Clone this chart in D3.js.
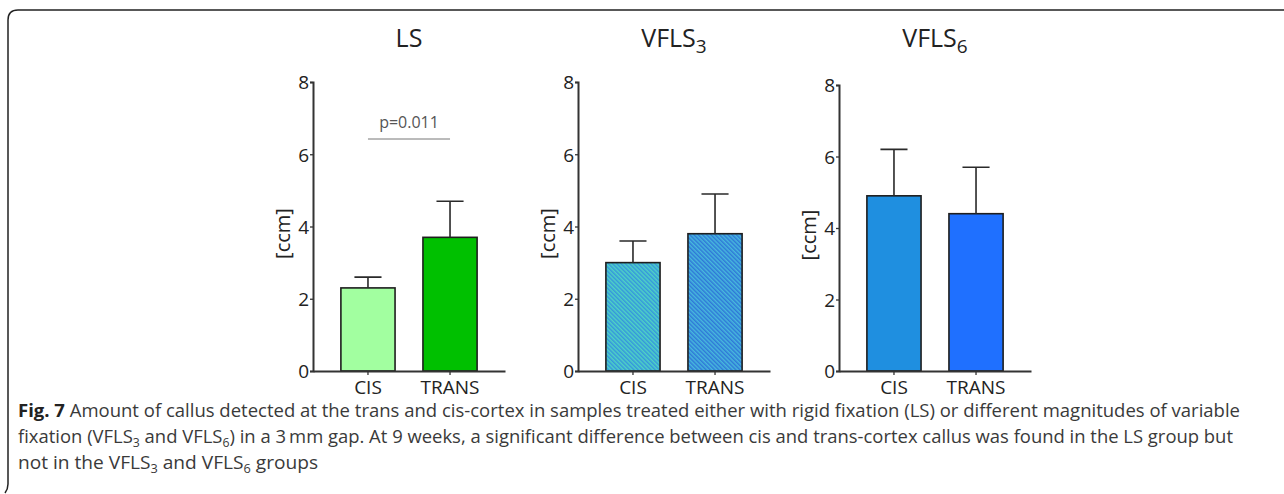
<!DOCTYPE html>
<html>
<head>
<meta charset="utf-8">
<script src="https://cdn.jsdelivr.net/npm/d3@7"></script>
<style>
  body { margin: 0; background: #fff; }
  svg { display: block; font-family: "Open Sans", "DejaVu Sans", sans-serif; }
</style>
</head>
<body>
<div class="container"></div>
<script>
var width = 1284;
var height = 494;

// data
var groups = ["LS", "VFLS", "VFLS"];
var groupSubs = ["", "3", "6"];
var categories = ["CIS", "TRANS"];
var lsMeans = [2.3, 3.7];
var lsSD = [0.3, 1.0];
var vfls3Means = [3.0, 3.8];
var vfls3SD = [0.6, 1.1];
var vfls6Means = [4.9, 4.4];
var vfls6SD = [1.3, 1.3];
var yTicks = [0, 2, 4, 6, 8];
var yLabel = "[ccm]";
var pLabel = "p=0.011";

// layout
var panelLeft = [313, 578, 839];
var panelTop = [82, 82, 85];
var panelBottom = 371;
var panelWidth = 192;
var fills = [["#a2ffa0", "#00c000"], ["url(#hatchCis)", "url(#hatchTrans)"], ["#1f8fe0", "#1f70ff"]];
var means = [lsMeans, vfls3Means, vfls6Means];
var sds = [lsSD, vfls3SD, vfls6SD];

var svg = d3.select(".container")
  .append("svg")
  .attr("width", width)
  .attr("height", height);

//-----------------------------------------
// hatch patterns for VFLS3
var defs = svg.append("defs");
function hatch(id, bg, fg) {
  var p = defs.append("pattern")
    .attr("id", id)
    .attr("patternUnits", "userSpaceOnUse")
    .attr("width", 3).attr("height", 3)
    .attr("patternTransform", "rotate(-45)");
  p.append("rect").attr("width", 3).attr("height", 3).attr("fill", bg);
  p.append("rect").attr("width", 1.5).attr("height", 3).attr("fill", fg);
}
hatch("hatchCis", "#4fd3c4", "#3596dd");
hatch("hatchTrans", "#47b9dc", "#2f78d8");

//-----------------------------------------
// frame
svg.append("path")
  .attr("d", "M5,493 Q8,489 8,484 L8,20 Q8,10 18,10 L1284,10")
  .attr("fill", "none")
  .attr("stroke", "#222")
  .attr("stroke-width", 1.5);

//-----------------------------------------
// panels
groups.forEach(function(name, gi) {
  var x0 = panelLeft[gi];
  var g = svg.append("g");

  var xScale = d3.scaleBand()
    .domain(categories)
    .range([x0, x0 + panelWidth])
    .padding(0.34);
  var yScale = d3.scaleLinear()
    .domain([0, 8])
    .range([panelBottom, panelTop[gi]]);

  var rows = categories.map(function(c, i) {
    return {cat: c, mean: means[gi][i], sd: sds[gi][i], fill: fills[gi][i]};
  });

  // bars
  g.selectAll(".bar")
    .data(rows)
    .enter()
    .append("rect")
    .attr("class", "bar")
    .attr("x", d => xScale(d.cat))
    .attr("y", d => yScale(d.mean))
    .attr("width", xScale.bandwidth())
    .attr("height", d => panelBottom - yScale(d.mean))
    .attr("fill", d => d.fill)
    .attr("stroke", "#1e1e1e")
    .attr("stroke-width", 1.6);

  // error bars (upper only)
  var cap = xScale.bandwidth() / 2;
  g.selectAll(".err")
    .data(rows)
    .enter()
    .append("path")
    .attr("d", function(d) {
      var cx = xScale(d.cat) + xScale.bandwidth() / 2;
      return "M" + cx + "," + yScale(d.mean) + "V" + yScale(d.mean + d.sd) +
        "M" + (cx - cap / 2) + "," + yScale(d.mean + d.sd) + "H" + (cx + cap / 2);
    })
    .attr("fill", "none")
    .attr("stroke", "#2a2a2a")
    .attr("stroke-width", 1.6);

  // axes
  var yAxis = d3.axisLeft(yScale).tickValues(yTicks).tickSize(3).tickPadding(1)
    .tickFormat(d3.format("d"));
  var ya = g.append("g")
    .attr("transform", "translate(" + x0 + ",0)")
    .call(yAxis);
  ya.attr("font-size", null).attr("font-family", null);
  ya.selectAll("text")
    .style("font-size", "19px")
    .style("font-family", "'Open Sans', sans-serif")
    .attr("fill", "#222")
    .attr("dy", "0.36em");

  var xAxis = d3.axisBottom(xScale).tickSize(4).tickPadding(6).tickSizeOuter(0);
  var xa = g.append("g")
    .attr("transform", "translate(0," + panelBottom + ")")
    .call(xAxis);
  xa.attr("font-size", null).attr("font-family", null);
  xa.selectAll("text")
    .style("font-size", "19px")
    .style("font-family", "'Open Sans', sans-serif")
    .attr("fill", "#222");

  [ya, xa].forEach(function(a) {
    a.select(".domain").attr("stroke", "#333").attr("stroke-width", 2);
    a.selectAll(".tick line").attr("stroke", "#333").attr("stroke-width", 1.3);
  });

  // y label
  g.append("text")
    .attr("transform", "translate(" + (x0 - 23) + "," + ((panelBottom + panelTop[gi]) / 2 + 7) + ") rotate(-90)")
    .attr("text-anchor", "middle")
    .attr("font-size", 20)
    .attr("fill", "#222")
    .text(yLabel);

  // title
  var t = g.append("text")
    .attr("x", x0 + panelWidth / 2)
    .attr("y", 47)
    .attr("text-anchor", "middle")
    .attr("font-size", 25)
    .attr("fill", "#222");
  t.append("tspan").text(name);
  if (groupSubs[gi]) {
    t.append("tspan").attr("font-size", 19).attr("dy", 6).text(groupSubs[gi]);
  }

  // significance marker for LS
  if (gi === 0) {
    var xc0 = xScale(categories[0]) + xScale.bandwidth() / 2;
    var xc1 = xScale(categories[1]) + xScale.bandwidth() / 2;
    g.append("line")
      .attr("x1", xc0).attr("x2", xc1)
      .attr("y1", 139).attr("y2", 139)
      .attr("stroke", "#777").attr("stroke-width", 1);
    g.append("text")
      .attr("x", (xc0 + xc1) / 2)
      .attr("y", 128)
      .attr("text-anchor", "middle")
      .attr("font-size", 16)
      .attr("fill", "#555")
      .text(pLabel);
  }
});

//-----------------------------------------
// caption
var capFont = "'Liberation Sans Narrow', 'Open Sans', sans-serif";
function capLine(y, len) {
  return svg.append("text")
    .attr("x", 18).attr("y", y)
    .attr("font-size", 18)
    .attr("font-family", capFont)
    .attr("fill", "#3a3a3a")
    .attr("textLength", len)
    .attr("lengthAdjust", "spacingAndGlyphs");
}
function sub(t, s) {
  t.append("tspan").attr("font-size", 12).attr("dy", 4).text(s);
  return t;
}
var l1 = capLine(417, 1222);
l1.append("tspan").attr("font-weight", "bold").attr("fill", "#222").text("Fig. 7");
l1.append("tspan").text(" Amount of callus detected at the trans and cis-cortex in samples treated either with rigid fixation (LS) or different magnitudes of variable");

var l2 = capLine(443, 1215);
l2.append("tspan").text("fixation (VFLS");
sub(l2, "3");
l2.append("tspan").attr("dy", -4).text(" and VFLS");
sub(l2, "6");
l2.append("tspan").attr("dy", -4).text(") in a 3\u2009mm gap. At 9 weeks, a significant difference between cis and trans-cortex callus was found in the LS group but");

var l3 = capLine(469, 300);
l3.append("tspan").text("not in the VFLS");
sub(l3, "3");
l3.append("tspan").attr("dy", -4).text(" and VFLS");
sub(l3, "6");
l3.append("tspan").attr("dy", -4).text(" groups");
</script>
</body>
</html>
